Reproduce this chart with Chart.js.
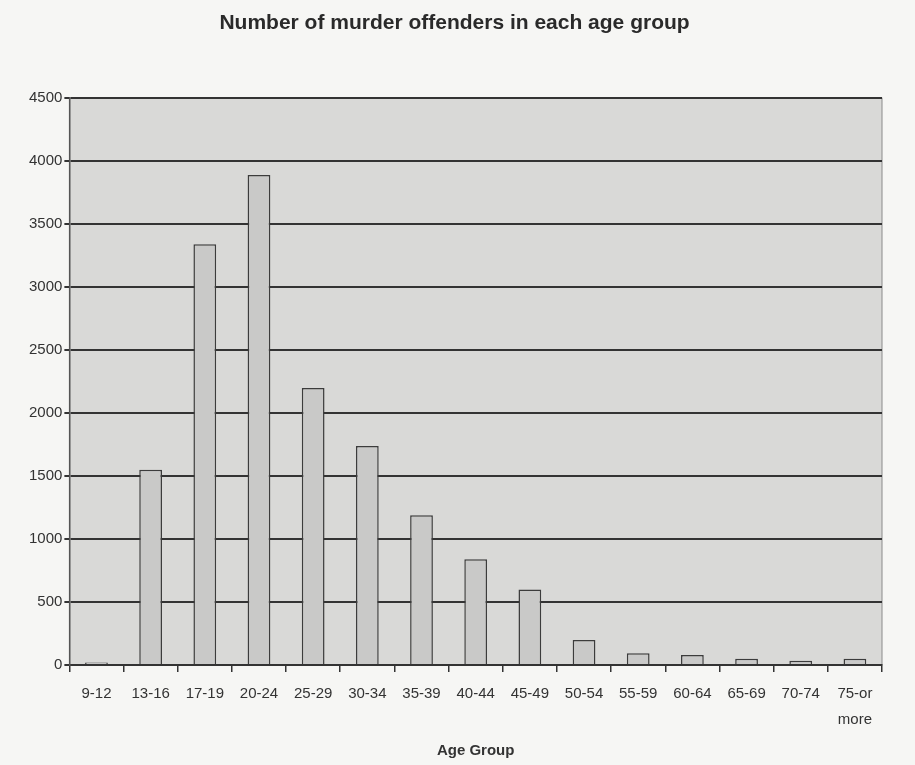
<!DOCTYPE html>
<html>
<head>
<meta charset="utf-8">
<script src="https://cdn.jsdelivr.net/npm/chart.js@4/dist/chart.umd.min.js"></script>
<style>
    html, body { margin: 0; padding: 0; background: #f6f6f4; }
    #wrap { width: 915px; height: 765px; }
</style>
</head>
<body>
<div id="wrap"><canvas id="chart"></canvas></div>
<script>
const ageGroups = ['9-12', '13-16', '17-19', '20-24', '25-29', '30-34', '35-39', '40-44',
    '45-49', '50-54', '55-59', '60-64', '65-69', '70-74', ['75-or', 'more']];
const offenders = [20, 1550, 3340, 3890, 2200, 1740, 1190, 840, 600, 200, 95, 80, 50, 35, 50];
const yTicks = { min: 0, max: 4500, step: 500 };

// grey plot area with a thin frame, as in the scanned chart
const plotBackground = {
    id: 'plotBackground',
    beforeDraw(chart) {
        const { ctx, chartArea: a } = chart;
        ctx.save();
        ctx.fillStyle = '#d9d9d7';
        ctx.fillRect(a.left, a.top, a.width, a.height);
        ctx.strokeStyle = '#8a8a8a';
        ctx.lineWidth = 1;
        ctx.strokeRect(a.left, a.top, a.width, a.height);
        ctx.restore();
    }
};

const ctx = document.getElementById('chart').getContext('2d');
new Chart(ctx, {
    type: 'bar',
    data: {
        labels: ageGroups,
        datasets: [{
            label: 'Offenders',
            data: offenders,
            backgroundColor: '#c9c9c8',
            borderColor: '#3c3c3c',
            borderWidth: 1.5,
            barPercentage: 0.42,
            categoryPercentage: 1.0
        }]
    },
    options: {
        responsive: true,
        maintainAspectRatio: false,
        animation: false,
        layout: { padding: { left: 27, right: 33, top: 0, bottom: 5 } },
        scales: {
            x: {
                offset: true,
                grid: {
                    offset: true,
                    drawOnChartArea: false,
                    drawTicks: true,
                    tickLength: 7,
                    color: '#333',
                    lineWidth: 1.5
                },
                border: { color: '#333', width: 2 },
                ticks: {
                    color: '#333',
                    font: { family: 'Liberation Sans', size: 15, lineHeight: 1.73 },
                    maxRotation: 0,
                    autoSkip: false,
                    padding: 9
                },
                title: {
                    display: true,
                    text: 'Age Group',
                    color: '#333',
                    font: { family: 'Liberation Sans', size: 15, weight: 'bold' },
                    padding: { top: 0, bottom: 0 }
                }
            },
            y: {
                min: yTicks.min,
                max: yTicks.max,
                grid: {
                    color: '#333',
                    lineWidth: 2,
                    tickLength: 5
                },
                border: { color: '#555', width: 1.5 },
                ticks: {
                    stepSize: yTicks.step,
                    color: '#333',
                    font: { family: 'Liberation Sans', size: 15 },
                    padding: 2,
                    callback: v => String(v)
                }
            }
        },
        plugins: {
            legend: { display: false },
            tooltip: { enabled: false },
            title: {
                display: true,
                text: 'Number of murder offenders in each age group',
                color: '#2a2a2a',
                font: { family: 'Liberation Sans', size: 21, weight: 'bold' },
                padding: { top: 11, bottom: 62 }
            }
        }
    },
    plugins: [plotBackground]
});
</script>
</body>
</html>
